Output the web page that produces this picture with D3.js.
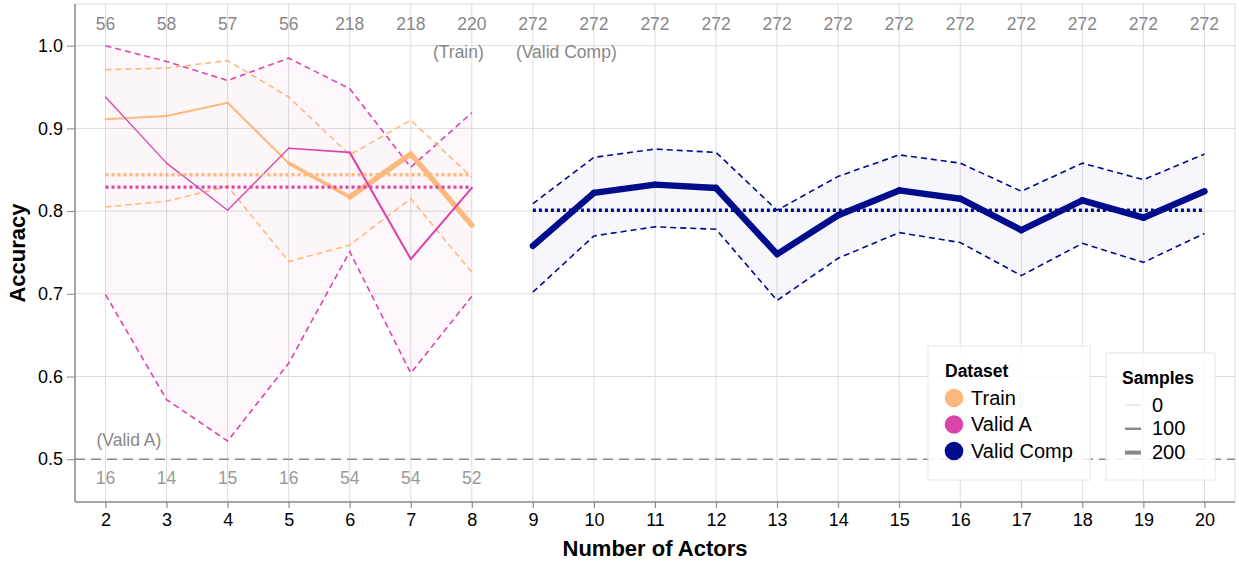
<!DOCTYPE html>
<html><head><meta charset="utf-8">
<script src="https://cdn.jsdelivr.net/npm/d3@7"></script>
<style>
body{margin:0;background:#fff;}
svg text{font-family:"Liberation Sans",Arial,Helvetica,sans-serif;}
</style></head>
<body><svg id="chart" width="1239" height="564"></svg>
<script>
// ---- data ----
const actorsA = [2,3,4,5,6,7,8];
const actorsComp = [9,10,11,12,13,14,15,16,17,18,19,20];
const trainMean  = [0.911,0.915,0.931,0.858,0.817,0.869,0.783];
const trainUpper = [0.971,0.973,0.982,0.938,0.868,0.910,0.841];
const trainLower = [0.805,0.812,0.830,0.739,0.759,0.815,0.726];
const trainSamples = [56,58,57,56,218,218,220];
const validAMean  = [0.938,0.858,0.801,0.876,0.871,0.742,0.828];
const validAUpper = [1.000,0.981,0.958,0.985,0.948,0.853,0.919];
const validALower = [0.699,0.572,0.522,0.616,0.751,0.604,0.697];
const validASamples = [16,14,15,16,54,54,52];
const compMean  = [0.758,0.822,0.832,0.828,0.748,0.795,0.825,0.815,0.777,0.813,0.792,0.824];
const compUpper = [0.809,0.865,0.875,0.871,0.801,0.842,0.868,0.858,0.824,0.858,0.838,0.869];
const compLower = [0.702,0.770,0.781,0.778,0.692,0.743,0.774,0.762,0.722,0.761,0.738,0.773];
const compSamples = [272,272,272,272,272,272,272,272,272,272,272,272];
const overallMeans = {train:0.844, validA:0.829, comp:0.801};
const xTicks = d3.range(2,21);
const yTicks = [0.5,0.6,0.7,0.8,0.9,1.0];
const legendDatasets = ["Train","Valid A","Valid Comp"];
const legendSamples = [0,100,200];

// ---- styles ----
const colors = {"Train":"#fdb97d","Valid A":"#db45aa","Valid Comp":"#000c8c"};
const bandFill = {"Train":"rgba(253,185,125,0.015)","Valid A":"rgba(219,69,170,0.045)","Valid Comp":"rgba(0,12,140,0.035)"};

const svg = d3.select("#chart");
const L=75, R=1235, T=4, B=502;
const x = d3.scaleLinear().domain([1.5,20.5]).range([L,R]);
const y = d3.scaleLinear().domain([0.5,1.0]).range([459.2,45.7]);
const w = d3.scaleLinear().domain([0,300]).range([1,7]);

// grid
const g = svg.append("g");
g.selectAll(".vg").data(xTicks).join("line")
  .attr("x1",d=>x(d)).attr("x2",d=>x(d)).attr("y1",T).attr("y2",B+6)
  .attr("stroke","#dcdcdc").attr("stroke-width",1);
g.selectAll(".hg").data(yTicks.filter(v=>v!==0.5)).join("line")
  .attr("x1",L).attr("x2",R).attr("y1",d=>y(d)).attr("y2",d=>y(d))
  .attr("stroke","#dcdcdc").attr("stroke-width",1);
g.append("line").attr("x1",L).attr("x2",R).attr("y1",T).attr("y2",T).attr("stroke","#dcdcdc");
g.append("line").attr("x1",R).attr("x2",R).attr("y1",T).attr("y2",B).attr("stroke","#dcdcdc");

// axes
const yAxis = svg.append("g").attr("transform",`translate(${L},0)`)
  .call(d3.axisLeft(y).tickValues(yTicks).tickFormat(d3.format(".1f")).tickSize(8).tickPadding(4));
const xAxis = svg.append("g").attr("transform",`translate(0,${B})`)
  .call(d3.axisBottom(x).tickValues(xTicks).tickSize(6).tickPadding(5));
[yAxis,xAxis].forEach(a=>{
  a.select(".domain").attr("stroke","#888").attr("stroke-width",1.5);
  a.selectAll(".tick line").attr("stroke","#888");
  a.selectAll(".tick text").attr("font-size",18).attr("fill","#000");
});
xAxis.select(".domain").attr("d",`M${L},0H${R}`);
yAxis.select(".domain").attr("d",`M0,${T}V${B}`);

// chance line
svg.append("line").attr("x1",L).attr("x2",R).attr("y1",y(0.5)).attr("y2",y(0.5))
  .attr("stroke","#888").attr("stroke-width",1.5).attr("stroke-dasharray","10,6");

function series(name, xs, mean, upper, lower, samples, overall){
  const pts = xs.map((v,i)=>({x:v,m:mean[i],u:upper[i],l:lower[i],s:samples[i]}));
  return {name,pts,overall,xs};
}
const S = [
  series("Valid A",actorsA,validAMean,validAUpper,validALower,validASamples,overallMeans.validA),
  series("Train",actorsA,trainMean,trainUpper,trainLower,trainSamples,overallMeans.train),
  series("Valid Comp",actorsComp,compMean,compUpper,compLower,compSamples,overallMeans.comp)
];
const area = d3.area().x(d=>x(d.x)).y0(d=>y(d.l)).y1(d=>y(d.u));
S.forEach(s=>svg.append("path").attr("d",area(s.pts)).attr("fill",bandFill[s.name]));
S.forEach(s=>{
  ["u","l"].forEach(k=>{
    svg.append("path").attr("d",d3.line().x(d=>x(d.x)).y(d=>y(d[k]))(s.pts))
      .attr("fill","none").attr("stroke",colors[s.name]).attr("stroke-width",1.6)
      .attr("stroke-dasharray","6,4");
  });
});
// mean trails
["Train","Valid A","Valid Comp"].forEach(n=>{
  const s = S.find(d=>d.name===n);
  for(let i=0;i<s.pts.length-1;i++){
    const a=s.pts[i], b=s.pts[i+1];
    svg.append("line").attr("x1",x(a.x)).attr("y1",y(a.m)).attr("x2",x(b.x)).attr("y2",y(b.m))
      .attr("stroke",colors[n]).attr("stroke-width",w((a.s+b.s)/2)).attr("stroke-linecap","round");
  }
});
// overall means (dotted)
S.forEach(s=>{
  svg.append("line").attr("x1",x(s.xs[0])).attr("x2",x(s.xs[s.xs.length-1]))
    .attr("y1",y(s.overall)).attr("y2",y(s.overall))
    .attr("stroke",colors[s.name]).attr("stroke-width",3.4).attr("stroke-dasharray","3,3");
});

// sample count labels
svg.selectAll(".tc").data(actorsA.map((v,i)=>[v,trainSamples[i]]).concat(actorsComp.map((v,i)=>[v,compSamples[i]])))
  .join("text").attr("x",d=>x(d[0])).attr("y",30).attr("text-anchor","middle")
  .attr("font-size",17.5).attr("fill","#888").text(d=>d[1]);
svg.selectAll(".bc").data(actorsA.map((v,i)=>[v,validASamples[i]]))
  .join("text").attr("x",d=>x(d[0])).attr("y",484).attr("text-anchor","middle")
  .attr("font-size",17.5).attr("fill","#999").text(d=>d[1]);
svg.append("text").attr("x",x(8)+12).attr("y",58).attr("text-anchor","end")
  .attr("font-size",17.5).attr("fill","#888").text("(Train)");
svg.append("text").attr("x",x(9)-17).attr("y",58).attr("text-anchor","start")
  .attr("font-size",17.5).attr("fill","#888").text("(Valid Comp)");
svg.append("text").attr("x",x(2)-9).attr("y",446).attr("text-anchor","start")
  .attr("font-size",17.5).attr("fill","#888").text("(Valid A)");

// axis titles
svg.append("text").attr("x",(L+R)/2).attr("y",556).attr("text-anchor","middle")
  .attr("font-size",22).attr("font-weight","bold").text("Number of Actors");
svg.append("text").attr("transform",`translate(25,${(T+B)/2}) rotate(-90)`).attr("text-anchor","middle")
  .attr("font-size",22).attr("font-weight","bold").text("Accuracy");

// legends
const lg = svg.append("g");
lg.append("rect").attr("x",928).attr("y",346).attr("width",162).attr("height",134)
  .attr("fill","rgba(255,255,255,0.85)").attr("stroke","#e6e6e6");
lg.append("text").attr("x",945).attr("y",377).attr("font-size",17.5).attr("font-weight","bold").text("Dataset");
legendDatasets.forEach((n,i)=>{
  lg.append("circle").attr("cx",954).attr("cy",398+i*26.5).attr("r",9.3).attr("fill",colors[n]);
  lg.append("text").attr("x",971).attr("y",404.5+i*26.5).attr("font-size",20).text(n);
});
lg.append("rect").attr("x",1106).attr("y",353).attr("width",109).attr("height",127)
  .attr("fill","rgba(255,255,255,0.85)").attr("stroke","#e6e6e6");
lg.append("text").attr("x",1122).attr("y",384).attr("font-size",17.5).attr("font-weight","bold").text("Samples");
legendSamples.forEach((v,i)=>{
  lg.append("line").attr("x1",1125).attr("x2",1141).attr("y1",405+i*23.8).attr("y2",405+i*23.8)
    .attr("stroke",v===0?"#ccc":"#888").attr("stroke-width",w(v)*0.8);
  lg.append("text").attr("x",1152).attr("y",411.5+i*23.8).attr("font-size",20).text(v);
});
</script></body></html>
